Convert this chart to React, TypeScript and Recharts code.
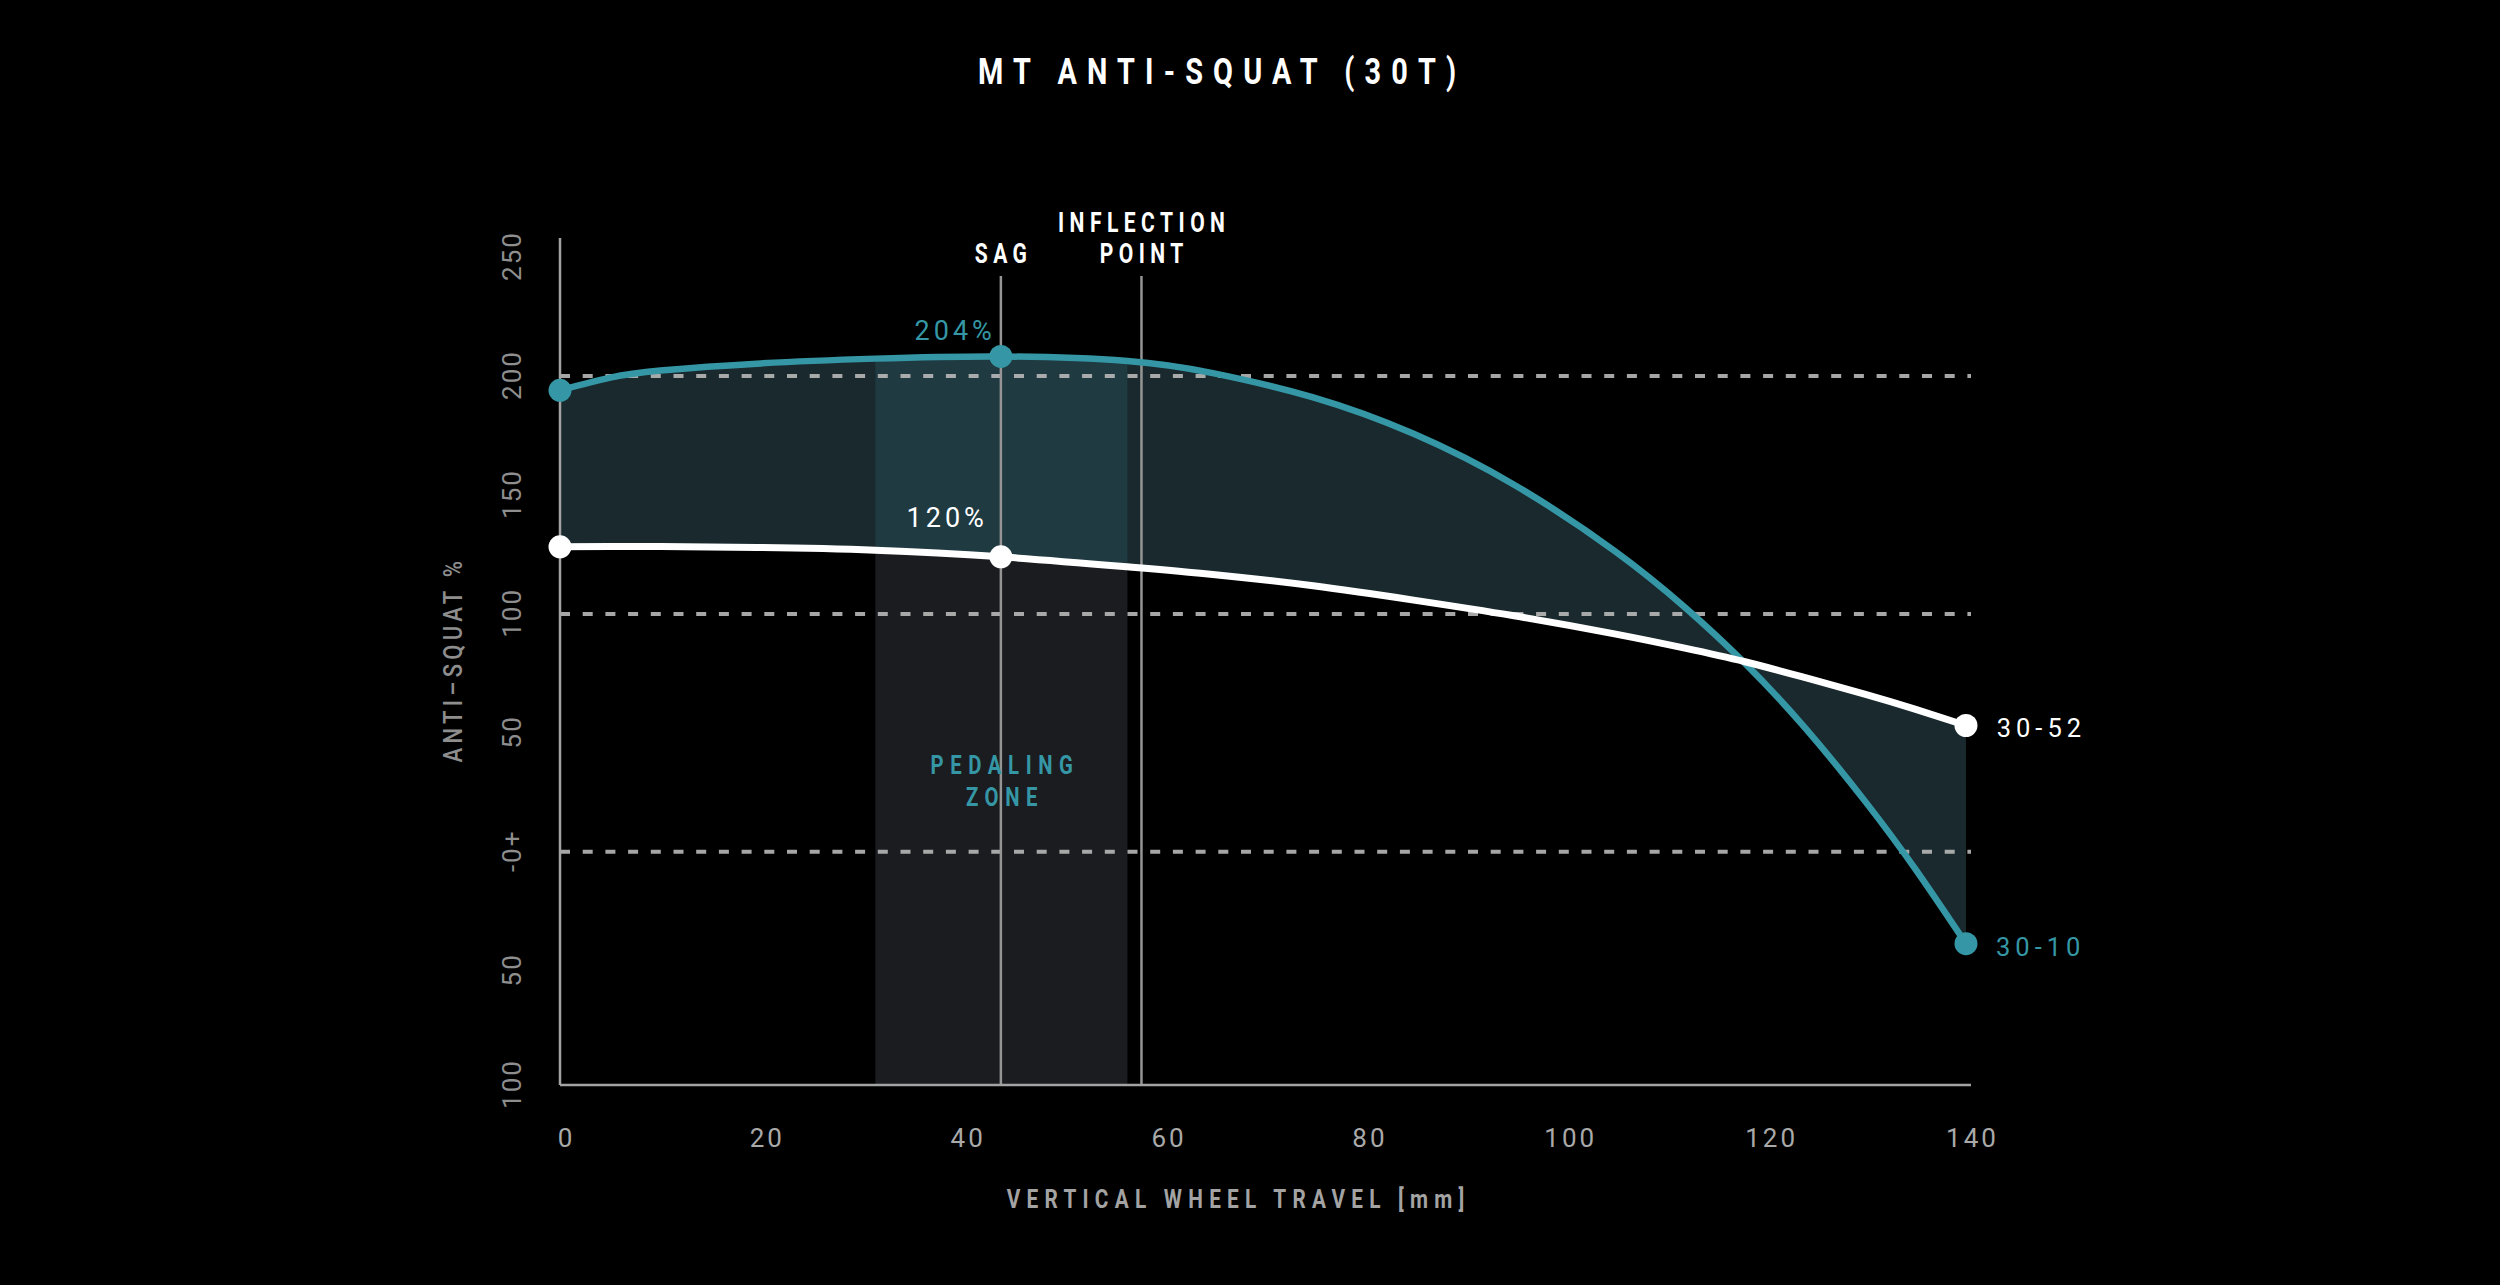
import React from "react";
import {
  ComposedChart,
  Area,
  Line,
  XAxis,
  YAxis,
  ReferenceLine,
} from "recharts";

// vertical wheel travel [mm]
const travel = [0, 5, 10, 20, 31.4, 43.9, 56.5, 65, 75, 85, 95, 105, 112, 118, 124, 130, 135, 140];
// anti-squat % per gear
const gear3010 = [194, 199.3, 202.3, 205.3, 207.3, 208.2, 206.3, 201.2, 191, 175.7, 154.3, 126.5, 102.8, 79.2, 52, 21, -7.5, -38.6];
const gear3052 = [128.2, 128.3, 128.3, 127.9, 126.8, 124, 119.8, 116.6, 111.8, 105.8, 99.2, 91.6, 85.6, 79.9, 73.2, 66.2, 59.9, 53.1];

const xTicks = [0, 20, 40, 60, 80, 100, 120, 140];
const yTicks = [-98, -50, 0, 50, 100, 150, 200, 250];
const yTickLabels = ["100", "50", "-0+", "50", "100", "150", "200", "250"];
const dashedLevels = [200, 100, 0];

const sagX = 43.9;
const inflectionX = 57.9;
const zoneStart = 31.4;
const zoneEnd = 56.5;
const markerTop = 242;
const yMin = -98;
const yMax = 258;

const sagLabel3010 = "204%";
const sagLabel3052 = "120%";
const endLabel3010 = "30-10";
const endLabel3052 = "30-52";

const TEAL = "#3597a5";
const FONT = "Roboto, 'Noto Sans', sans-serif";
const CURVE = "natural";

const rows = travel.map((t, i) => {
  const inZone = t >= zoneStart && t <= zoneEnd;
  return {
    travel: t,
    g10: gear3010[i],
    g52: gear3052[i],
    band: [gear3052[i], gear3010[i]],
    zoneLow: inZone ? [yMin, gear3052[i]] : null,
    zoneBand: inZone ? [gear3052[i], gear3010[i]] : null,
  };
});

const sagIdx = travel.indexOf(sagX);
const lastIdx = travel.length - 1;
const markerIdx = [0, sagIdx, lastIdx];

function CText({ x, y, children, size, weight = 400, fill, ls = 0, sx = 1, rotate = 0, anchor = "middle" }: any) {
  const dx = anchor === "middle" ? ls / 2 : anchor === "end" ? ls : 0;
  return (
    <text
      transform={`translate(${x} ${y}) rotate(${rotate}) scale(${sx} 1)`}
      dx={dx}
      textAnchor={anchor}
      fontFamily={FONT}
      fontSize={size}
      fontWeight={weight}
      fill={fill}
      letterSpacing={ls}
    >
      {children}
    </text>
  );
}

const makeDot = (color: string) => (p: any) => {
  const { cx, cy, index } = p;
  if (!markerIdx.includes(index) || cx == null || cy == null) return <g key={`d-${index}`} />;
  return <circle key={`d-${index}`} cx={cx} cy={cy} r={11.5} fill={color} />;
};

const tealLabel = (p: any) => {
  const { x, y, index } = p;
  if (index === sagIdx)
    return <CText x={x - 9} y={y - 16} size={27} fill={TEAL} ls={4} anchor="end">{sagLabel3010}</CText>;
  if (index === lastIdx)
    return <CText x={x + 30} y={y + 12} size={25.5} fill={TEAL} ls={5} anchor="start">{endLabel3010}</CText>;
  return null;
};

const whiteLabel = (p: any) => {
  const { x, y, index } = p;
  if (index === sagIdx)
    return <CText x={x - 17} y={y - 29.6} size={27} fill="#fff" ls={4} anchor="end">{sagLabel3052}</CText>;
  if (index === lastIdx)
    return <CText x={x + 30.7} y={y + 11.6} size={25.5} fill="#fff" ls={5} anchor="start">{endLabel3052}</CText>;
  return null;
};

const XTick = (p: any) => {
  const { x, y, payload } = p;
  return (
    <CText x={x + 5} y={y + 62} size={26} fill="#a9a9a9" ls={3}>
      {String(payload.value)}
    </CText>
  );
};

const YTick = (p: any) => {
  const { x, y, payload } = p;
  const label = yTickLabels[yTicks.indexOf(payload.value)];
  return (
    <CText x={x - 39} y={y} size={26} fill="#8e8e8e" ls={2} rotate={-90}>
      {label}
    </CText>
  );
};

const topLabel = (lines: string[]) => (p: any) => {
  const vb = p.viewBox || {};
  const cx = vb.x + (vb.width || 0) / 2;
  const top = vb.y;
  return (
    <g>
      {lines.map((l, i) => (
        <CText key={l} x={cx} y={top - 12.7 - (lines.length - 1 - i) * 31} size={27} weight={700} fill="#fff" ls={7} sx={0.78}>
          {l}
        </CText>
      ))}
    </g>
  );
};

export default function App() {
  return (
    <div style={{ position: "relative", width: 2500, height: 1285, background: "#000" }}>
      <style>{`html,body{margin:0;padding:0;background:#000;}`}</style>
      <ComposedChart
        width={2500}
        height={1285}
        data={rows}
        margin={{ top: 238, right: 529, bottom: 140, left: 500 }}
      >
        <XAxis
          type="number"
          dataKey="travel"
          domain={[0, 140.5]}
          ticks={xTicks}
          interval={0}
          height={60}
          tickSize={0}
          tickMargin={0}
          tickLine={false}
          axisLine={{ stroke: "#a3a3a3", strokeWidth: 2.5 }}
          tick={<XTick />}
        />
        <YAxis
          type="number"
          domain={[yMin, yMax]}
          ticks={yTicks}
          interval={0}
          width={60}
          tickSize={0}
          tickMargin={0}
          tickLine={false}
          axisLine={{ stroke: "#a3a3a3", strokeWidth: 2.5 }}
          tick={<YTick />}
        />
        <Area dataKey="band" type={CURVE} stroke="none" fill="#19292e" fillOpacity={1} activeDot={false} isAnimationActive={false} />
        <Area dataKey="zoneLow" type={CURVE} stroke="none" fill="#1b1c20" fillOpacity={1} activeDot={false} isAnimationActive={false} />
        <Area dataKey="zoneBand" type={CURVE} stroke="none" fill="#1f3a41" fillOpacity={1} activeDot={false} isAnimationActive={false} />
        {dashedLevels.map((v) => (
          <ReferenceLine key={v} y={v} stroke="#b8b8b8" strokeOpacity={0.9} strokeWidth={4} strokeDasharray="10 12.7" />
        ))}
        <ReferenceLine
          segment={[{ x: sagX, y: yMin }, { x: sagX, y: markerTop }]}
          stroke="#959595"
          strokeWidth={2.5}
          label={topLabel(["SAG"])}
        />
        <ReferenceLine
          segment={[{ x: inflectionX, y: yMin }, { x: inflectionX, y: markerTop }]}
          stroke="#959595"
          strokeWidth={2.5}
          label={topLabel(["INFLECTION", "POINT"])}
        />
        <Line
          dataKey="g10"
          type={CURVE}
          stroke={TEAL}
          strokeWidth={6.5}
          dot={makeDot(TEAL)}
          activeDot={false}
          label={tealLabel}
          isAnimationActive={false}
        />
        <Line
          dataKey="g52"
          type={CURVE}
          stroke="#ffffff"
          strokeWidth={7}
          dot={makeDot("#ffffff")}
          activeDot={false}
          label={whiteLabel}
          isAnimationActive={false}
        />
      </ComposedChart>
      <svg width={2500} height={1285} style={{ position: "absolute", left: 0, top: 0, pointerEvents: "none" }}>
        <CText x={1217} y={84} size={37} weight={700} fill="#fff" ls={13} sx={0.78}>
          MT ANTI-SQUAT (30T)
        </CText>
        <CText x={1001.7} y={774} size={26} weight={700} fill={TEAL} ls={8.5} sx={0.78}>
          PEDALING
        </CText>
        <CText x={1001.7} y={806} size={26} weight={700} fill={TEAL} ls={8.5} sx={0.78}>
          ZONE
        </CText>
        <CText x={1235.5} y={1208} size={26} weight={700} fill="#a3a3a3" ls={7.8} sx={0.8}>
          VERTICAL WHEEL TRAVEL [mm]
        </CText>
        <CText x={461.7} y={661.7} size={26} weight={500} fill="#8e8e8e" ls={5} sx={0.85} rotate={-90}>
          ANTI–SQUAT %
        </CText>
      </svg>
    </div>
  );
}
